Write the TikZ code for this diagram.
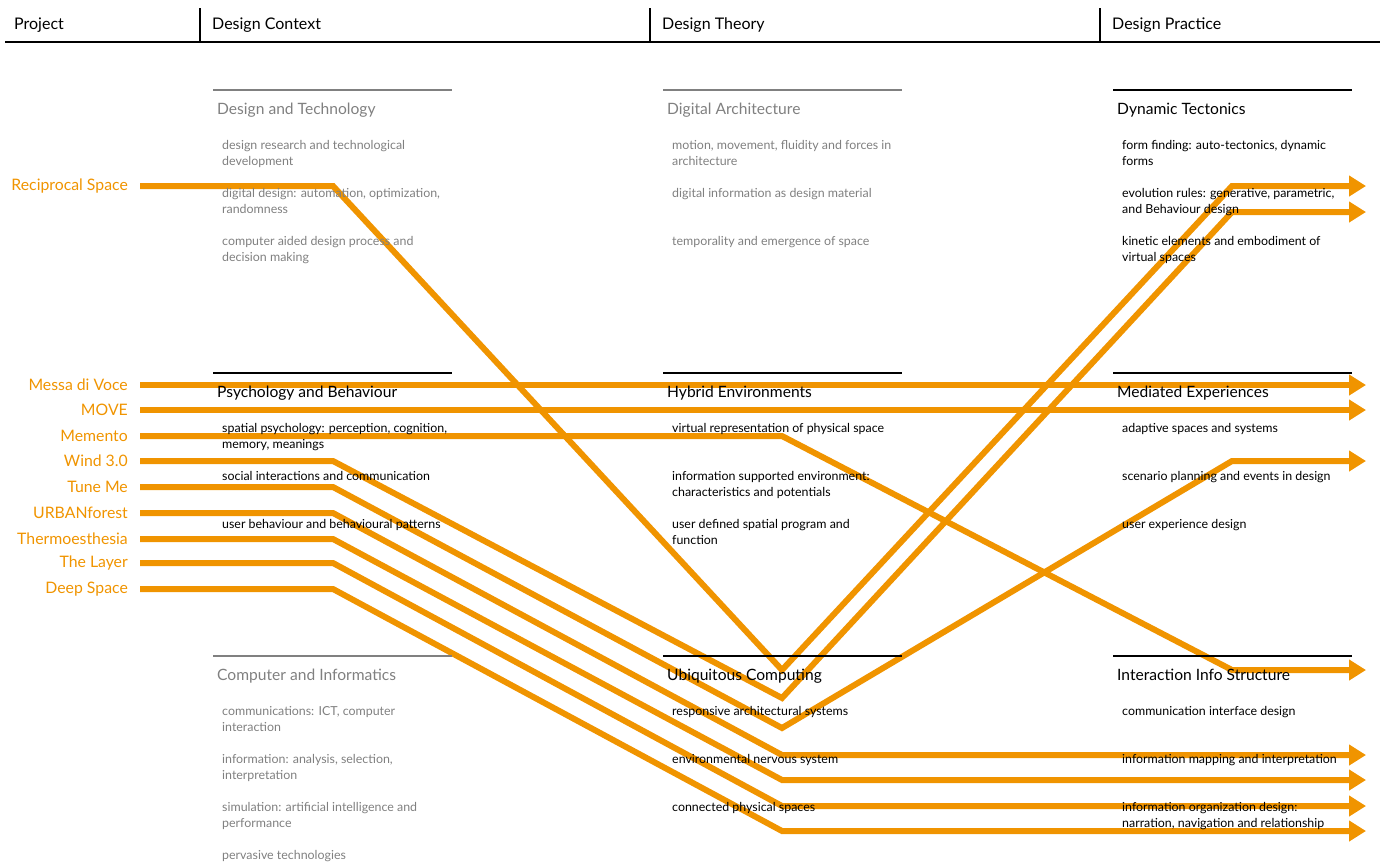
\documentclass[tikz,border=0pt]{standalone}
\usepackage{fontspec}
\setmainfont{Lato}
\usetikzlibrary{arrows.meta}
\definecolor{flow}{RGB}{240,148,0}
\definecolor{muted}{RGB}{128,128,128}
\pgfdeclarelayer{routes}
\pgfsetlayers{routes,main}
\begin{document}
\begin{tikzpicture}[x=1pt,y=-1pt,
  head/.style={anchor=base west, inner sep=0pt, font=\fontsize{16}{18}\selectfont},
  proj/.style={anchor=east, inner sep=0pt, text=flow, font=\fontsize{15.8}{18}\selectfont},
  title/.style={anchor=base west, inner sep=0pt, font=\fontsize{15.6}{18}\selectfont},
  item/.style={anchor=base west, inner sep=0pt, align=left, font=\fontsize{12.4}{16}\selectfont},
  twoline/.style={yshift=-16pt},
  soft/.style={text=muted},
  rule/.style={line width=1.5pt},
  softrule/.style={line width=1.5pt, draw=muted},
  route/.style={draw=flow, line width=6pt, -{Triangle[width=20pt,length=17pt]}}
]
\useasboundingbox (0,0) rectangle (1380,863);

% ---- header row
\draw[line width=2pt] (5,42) -- (1380,42);
\foreach \x in {200,650,1100} \draw[rule] (\x,8) -- (\x,42);
\node[head] (hP) at (14,29) {Project};
\node[head] (hC) at (212,29) {Design Context};
\node[head] (hT) at (662,29) {Design Theory};
\node[head] (hR) at (1112,29) {Design Practice};

% ---- Design Context column
\draw[softrule] (213,90) -- (452,90);
\node[title,soft] (dt) at (217,114) {Design and Technology};
\node[item,soft,twoline] (dt1) at (222,149) {design research and technological\\development};
\node[item,soft,twoline] (dt2) at (222,197) {digital design: automation, optimization,\\randomness};
\node[item,soft,twoline] (dt3) at (222,245) {computer aided design process and\\decision making};

\draw[rule] (213,373) -- (452,373);
\node[title] (pb) at (217,397) {Psychology and Behaviour};
\node[item,twoline] (pb1) at (222,432) {spatial psychology: perception, cognition,\\memory, meanings};
\node[item] (pb2) at (222,480) {social interactions and communication};
\node[item] (pb3) at (222,528) {user behaviour and behavioural patterns};

\draw[softrule] (213,656) -- (452,656);
\node[title,soft] (ci) at (217,680) {Computer and Informatics};
\node[item,soft,twoline] (ci1) at (222,715) {communications: ICT, computer\\interaction};
\node[item,soft,twoline] (ci2) at (222,763) {information: analysis, selection,\\interpretation};
\node[item,soft,twoline] (ci3) at (222,811) {simulation: artificial intelligence and\\performance};
\node[item,soft] (ci4) at (222,859) {pervasive technologies};

% ---- Design Theory column
\draw[softrule] (663,90) -- (902,90);
\node[title,soft] (da) at (667,114) {Digital Architecture};
\node[item,soft,twoline] (da1) at (672,149) {motion, movement, fluidity and forces in\\architecture};
\node[item,soft] (da2) at (672,197) {digital information as design material};
\node[item,soft] (da3) at (672,245) {temporality and emergence of space};

\draw[rule] (663,373) -- (902,373);
\node[title] (he) at (667,397) {Hybrid Environments};
\node[item] (he1) at (672,432) {virtual representation of physical space};
\node[item,twoline] (he2) at (672,480) {information supported environment:\\characteristics and potentials};
\node[item,twoline] (he3) at (672,528) {user defined spatial program and\\function};

\draw[rule] (663,656) -- (902,656);
\node[title] (uc) at (667,680) {Ubiquitous Computing};
\node[item] (uc1) at (672,715) {responsive architectural systems};
\node[item] (uc2) at (672,763) {environmental nervous system};
\node[item] (uc3) at (672,811) {connected physical spaces};

% ---- Design Practice column
\draw[rule] (1113,90) -- (1352,90);
\node[title] (tc) at (1117,114) {Dynamic Tectonics};
\node[item,twoline] (tc1) at (1122,149) {form finding: auto-tectonics, dynamic\\forms};
\node[item,twoline] (tc2) at (1122,197) {evolution rules: generative, parametric,\\and Behaviour design};
\node[item,twoline] (tc3) at (1122,245) {kinetic elements and embodiment of\\virtual spaces};

\draw[rule] (1113,373) -- (1352,373);
\node[title] (mx) at (1117,397) {Mediated Experiences};
\node[item] (mx1) at (1122,432) {adaptive spaces and systems};
\node[item] (mx2) at (1122,480) {scenario planning and events in design};
\node[item] (mx3) at (1122,528) {user experience design};

\draw[rule] (1113,656) -- (1352,656);
\node[title] (is) at (1117,680) {Interaction Info Structure};
\node[item] (is1) at (1122,715) {communication interface design};
\node[item] (is2) at (1122,763) {information mapping and interpretation};
\node[item,twoline] (is3) at (1122,811) {information organization design:\\narration, navigation and relationship};

% ---- projects
\node[proj] (rs) at (128,186) {Reciprocal Space};
\node[proj] (mv) at (128,385) {Messa di Voce};
\node[proj] (mo) at (128,410) {MOVE};
\node[proj] (me) at (128,436) {Memento};
\node[proj] (wi) at (128,461) {Wind 3.0};
\node[proj] (tm) at (128,487) {Tune Me};
\node[proj] (uf) at (128,513) {URBANforest};
\node[proj] (th) at (128,539) {Thermoesthesia};
\node[proj] (tl) at (128,563) {The Layer};
\node[proj] (ds) at (128,589) {Deep Space};

% arrow targets at the right edge
\coordinate (eRS) at (1366,186);
\coordinate (eWI) at (1366,212);
\coordinate (eMV) at (1366,385);
\coordinate (eMO) at (1366,410);
\coordinate (eTM) at (1366,461);
\coordinate (eME) at (1366,670);
\coordinate (eUF) at (1366,755);
\coordinate (eTH) at (1366,780);
\coordinate (eTL) at (1366,806);
\coordinate (eDS) at (1366,831);

% ---- project routes, kept behind the text and rules
\begin{pgfonlayer}{routes}
\draw[route] ([xshift=12pt]rs.east) -- (333,186) -- (782,670) -- (1232,186) -- (eRS);
\draw[route] ([xshift=12pt]mv.east) -- (eMV);
\draw[route] ([xshift=12pt]mo.east) -- (eMO);
\draw[route] ([xshift=12pt]me.east) -- (782,436) -- (1232,670) -- (eME);
\draw[route] ([xshift=12pt]wi.east) -- (333,461) -- (782,698) -- (1232,212) -- (eWI);
\draw[route] ([xshift=12pt]tm.east) -- (333,487) -- (782,728) -- (1232,461) -- (eTM);
\draw[route] ([xshift=12pt]uf.east) -- (333,513) -- (782,755) -- (eUF);
\draw[route] ([xshift=12pt]th.east) -- (333,539) -- (782,780) -- (eTH);
\draw[route] ([xshift=12pt]tl.east) -- (333,563) -- (782,806) -- (eTL);
\draw[route] ([xshift=12pt]ds.east) -- (333,589) -- (782,831) -- (eDS);
\end{pgfonlayer}
\end{tikzpicture}
\end{document}
